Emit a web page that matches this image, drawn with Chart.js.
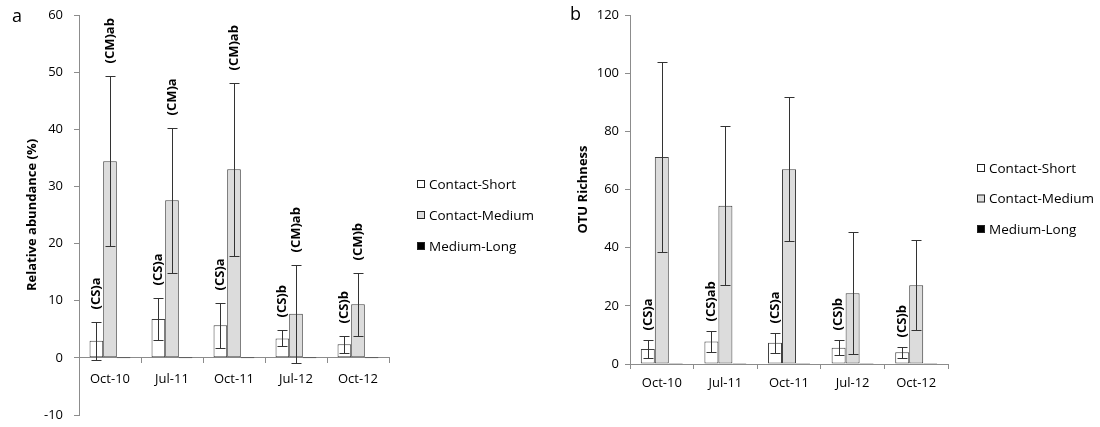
<!DOCTYPE html>
<html>
<head>
<meta charset="utf-8">
<script src="https://cdn.jsdelivr.net/npm/chart.js@4.4.1/dist/chart.umd.min.js"></script>
<style>
  body { margin: 0; background: #fff; }
  #wrap { position: relative; width: 1100px; height: 427px; }
  canvas { position: absolute; top: 0; }
</style>
</head>
<body>
<div id="wrap">
  <canvas id="chartA" width="560" height="427" style="left:0"></canvas>
  <canvas id="chartB" width="540" height="427" style="left:560px"></canvas>
</div>
<script>
// categories + series
var categories = ["Oct-10", "Jul-11", "Oct-11", "Jul-12", "Oct-12"];
var seriesNames = ["Contact-Short", "Contact-Medium", "Medium-Long"];
var seriesColors = ["#ffffff", "#dcdcdc", "#000000"];

// panel a - relative abundance (%)
var abundShort = [3.0, 6.8, 5.7, 3.4, 2.4];
var abundShortErr = [3.3, 3.6, 3.95, 1.4, 1.5];
var abundMedium = [34.4, 27.6, 33.0, 7.7, 9.4];
var abundMediumErr = [14.9, 12.7, 15.1, 8.6, 5.5];
var abundLong = [0, 0, 0, 0, 0];
var abundShortTags = ["(CS)a", "(CS)a", "(CS)a", "(CS)b", "(CS)b"];
var abundMediumTags = ["(CM)ab", "(CM)a", "(CM)ab", "(CM)ab", "(CM)b"];
var abundTicks = [-10, 60, 10];

// panel b - OTU richness
var richShort = [5.2, 7.7, 7.3, 5.6, 4.0];
var richShortErr = [3.1, 3.5, 3.4, 2.6, 1.8];
var richMedium = [71.2, 54.4, 67.0, 24.3, 27.1];
var richMediumErr = [32.6, 27.3, 24.7, 21.0, 15.4];
var richLong = [0, 0, 0, 0, 0];
var richShortTags = ["(CS)a", "(CS)ab", "(CS)a", "(CS)b", "(CS)b"];
var richTicks = [0, 120, 20];

var FONT = "'Open Sans', 'Liberation Sans', sans-serif";

// error bars, rotated letters, legend and panel letter
var extras = {
  id: "extras",
  afterDatasetsDraw: function(chart, args, opts) {
    var ctx = chart.ctx;
    var y = chart.scales.y;
    ctx.save();
    chart.data.datasets.forEach(function(ds, i) {
      if (!ds.errors) return;
      var meta = chart.getDatasetMeta(i);
      meta.data.forEach(function(bar, j) {
        var v = ds.data[j], e = ds.errors[j];
        var x = Math.round(bar.x) + 0.5;
        var top = Math.round(y.getPixelForValue(v + e)) + 0.5;
        var bot = Math.round(y.getPixelForValue(v - e)) + 0.5;
        ctx.strokeStyle = "#333";
        ctx.lineWidth = 1;
        ctx.beginPath();
        ctx.moveTo(x, top); ctx.lineTo(x, bot);
        ctx.moveTo(x - 5, top); ctx.lineTo(x + 5, top);
        ctx.moveTo(x - 5, bot); ctx.lineTo(x + 5, bot);
        ctx.stroke();
        if (ds.tags) {
          ctx.save();
          ctx.translate(bar.x, top - opts.tagGap);
          ctx.rotate(-Math.PI / 2);
          ctx.font = "bold 13px " + FONT;
          ctx.fillStyle = "#000";
          ctx.textAlign = "left";
          ctx.textBaseline = "middle";
          ctx.fillText(ds.tags[j], 0, 0);
          ctx.restore();
        }
      });
    });
    ctx.restore();
  },
  afterDraw: function(chart, args, opts) {
    var ctx = chart.ctx;
    ctx.save();
    ctx.font = "18px " + FONT;
    ctx.fillStyle = "#000";
    ctx.textBaseline = "middle";
    ctx.fillText(opts.letter, opts.letterX, opts.letterY);
    ctx.font = "13.5px " + FONT;
    chart.data.datasets.forEach(function(ds, i) {
      var ly = opts.legendY + i * opts.legendGap;
      ctx.fillStyle = ds.backgroundColor;
      ctx.fillRect(opts.legendX, ly - 4, 8, 8);
      ctx.strokeStyle = "#222";
      ctx.strokeRect(opts.legendX + 0.5, ly - 3.5, 7, 7);
      ctx.fillStyle = "#000";
      ctx.fillText(ds.label, opts.legendX + 12, ly + 1);
    });
    ctx.restore();
  }
};

function makeSets(short, shortErr, shortTags, medium, mediumErr, mediumTags, long) {
  var vals = [short, medium, long];
  var errs = [shortErr, mediumErr, null];
  var tags = [shortTags, mediumTags, null];
  return seriesNames.map(function(name, i) {
    return {
      label: name,
      data: vals[i],
      errors: errs[i],
      tags: tags[i],
      backgroundColor: seriesColors[i],
      borderColor: "#404040",
      borderWidth: 1,
      borderSkipped: false,
      minBarLength: i == 2 ? 1 : 0,
      barPercentage: 1,
      categoryPercentage: 0.66
    };
  });
}

function makeOptions(p) {
  return {
    responsive: false,
    animation: false,
    devicePixelRatio: 1,
    layout: { padding: { top: p.padTop, right: p.padRight, bottom: p.padBottom, left: 0 } },
    plugins: {
      legend: { display: false },
      tooltip: { enabled: false },
      extras: p.extras
    },
    scales: {
      x: {
        position: p.xPos,
        afterFit: function(s) { if (p.xHeight) s.height = p.xHeight; },
        grid: { drawOnChartArea: false, drawTicks: true, tickLength: 5, color: "#8c8c8c", offset: true },
        border: { color: "#8c8c8c" },
        ticks: { color: "#000", font: { family: FONT, size: 13 }, padding: p.xPad }
      },
      y: {
        min: p.ticks[0], max: p.ticks[1],
        afterFit: function(s) {
          s.width = p.yWidth;
          // tick label overflow should not push the plot area in
          s.paddingTop = 0;
          s.paddingBottom = 0;
        },
        grid: { drawOnChartArea: false, drawTicks: true, tickLength: 5, color: "#8c8c8c" },
        border: { color: "#8c8c8c" },
        ticks: { stepSize: p.ticks[2], color: "#000", font: { family: FONT, size: 13 }, padding: p.tickPad },
        title: { display: true, text: p.title, color: "#000", font: { family: FONT, size: 13, weight: "bold" }, padding: { top: p.titlePad, bottom: 0 } }
      }
    }
  };
}

new Chart(document.getElementById("chartA"), {
  type: "bar",
  data: {
    labels: categories,
    datasets: makeSets(abundShort, abundShortErr, abundShortTags, abundMedium, abundMediumErr, abundMediumTags, abundLong)
  },
  options: makeOptions({
    padTop: 15, padRight: 171, padBottom: 12, xPos: { y: 0 }, xHeight: 0, xPad: 9, yWidth: 79,
    ticks: abundTicks, tickPad: 11, title: "Relative abundance (%)", titlePad: 24,
    extras: { tagGap: 13, letter: "a", letterX: 12, letterY: 17, legendX: 417, legendY: 184, legendGap: 31 }
  }),
  plugins: [extras]
});

new Chart(document.getElementById("chartB"), {
  type: "bar",
  data: {
    labels: categories,
    datasets: makeSets(richShort, richShortErr, richShortTags, richMedium, richMediumErr, null, richLong)
  },
  options: makeOptions({
    padTop: 15, padRight: 152, padBottom: 23, xPos: "bottom", xHeight: 40, xPad: 6, yWidth: 70,
    ticks: richTicks, tickPad: 6, title: "OTU Richness", titlePad: 15,
    extras: { tagGap: 10, letter: "b", letterX: 10, letterY: 15, legendX: 417, legendY: 168, legendGap: 30.5 }
  }),
  plugins: [extras]
});
</script>
</body>
</html>
